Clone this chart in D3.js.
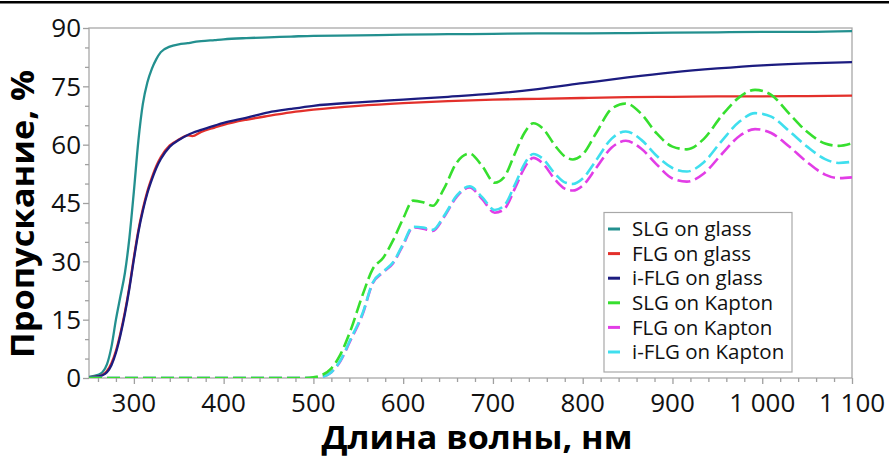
<!DOCTYPE html>
<html lang="ru">
<head>
<meta charset="UTF-8" />
<title>Пропускание</title>
<script src="https://d3js.org/d3.v7.min.js"></script>
<style>
  body { margin: 0; background: #fff; }
  svg { display: block; background: #fff; }
  .tick-label { font-family: "Open Sans", "Liberation Sans", sans-serif; font-size: 26px; fill: #111; }
  .legend-text { font-family: "Open Sans", "Liberation Sans", sans-serif; font-size: 20.5px; fill: #111; }
  .axis-title { font-family: "Open Sans", "Noto Sans", sans-serif; font-weight: bold; font-size: 32px; fill: #000; }
</style>
</head>
<body>
<svg id="chart" width="889" height="459"></svg>
<script>
// wavelength grid for the glass samples (nm)
const glassNm = [250,260,265,270,275,280,285,290,295,300,305,310,315,320,325,330,340,350,360,365,375,390,400,425,450,475,500,550,600,650,700,750,800,850,900,950,1000,1050,1100];
const slgGlass  = [0.3,0.8,1.5,3.5,8,15,21,27,36,48,61,70.5,76,79.5,82,83.8,85.2,85.8,86.1,86.3,86.6,86.9,87.1,87.4,87.6,87.8,88.0,88.1,88.3,88.4,88.5,88.6,88.6,88.7,88.8,88.9,89.0,89.0,89.2];
const flgGlass  = [0.2,0.4,0.8,1.8,3.8,7,11.5,17,23.5,31,38,43.5,48,51.5,54.5,56.8,59.8,61.3,62.4,62.2,63.3,64.4,65.1,66.4,67.4,68.3,69.0,70.0,70.7,71.2,71.6,71.8,72.0,72.2,72.3,72.4,72.4,72.5,72.6];
const iflgGlass = [0.2,0.4,0.7,1.5,3.3,6.5,11,16.5,23,30.5,37.5,43,47.5,51,54,56.3,59.5,61.2,62.5,63,63.8,64.9,65.6,66.9,68.3,69.2,70.0,70.9,71.6,72.3,73.1,74.3,75.8,77.3,78.6,79.6,80.4,80.9,81.2];

// wavelength grid for the Kapton samples (nm)
const kaptonNm = [250,490,500,510,520,530,541,555,566,578,589,600,611,622,633,645,660,674,688,702,712,725,735,745,755,770,780,789,800,815,832,848,865,882,900,916,935,955,975,992,1010,1030,1050,1070,1085,1100];
const slgKapton  = [0,0,0.2,0.8,2.5,6,12,21.5,28,31,35.5,41,45.6,45.2,44.3,48.5,55.5,57.7,54.5,50.2,51.5,58,63,65.5,64.3,59.5,57,56.2,57.5,63,69.2,70.6,68,63,59.5,58.8,61.5,67.5,72.3,74.1,72.8,68,63.3,60.3,59.7,60.4];
const flgKapton  = [0,0,0,0.3,1.5,4.3,9.5,16.5,24.3,27.2,29.6,34.2,38.7,38.4,37.8,41.2,46.7,49,46,42.5,43.3,49,54,56.6,55.3,50.8,48.7,48.2,49.5,54,59.2,61,59,55,51.3,50.5,52.6,57.6,62.3,64,63,59.5,55.5,52.3,51.4,51.6];
const iflgKapton = [0,0,0,0.3,1.5,4.5,9.8,16.8,24.5,27.4,29.8,34.5,38.9,38.7,38.1,41.5,47,49.3,46.5,43.2,44.2,50,55,57.6,56.5,52.3,50.3,49.9,51.3,56,61.5,63.4,61.3,57.2,54,53.1,55.5,61,66,68.1,67.2,63.5,59.5,56.3,55.3,55.6];

const seriesNames = ["SLG on glass","FLG on glass","i-FLG on glass","SLG on Kapton","FLG on Kapton","i-FLG on Kapton"];
const seriesColors = ["#23908f","#e3302b","#1c1c80","#36df2e","#e23de6","#3fdfee"];

const xMajorTicks = [300,400,500,600,700,800,900,1000,1100];
const yMajorTicks = [0,15,30,45,60,75,90];

const svg = d3.select("#chart");
const plot = { left: 89, right: 852, top: 28, bottom: 378 };

const x = d3.scaleLinear().domain([250, 1100]).range([plot.left, plot.right]);
const y = d3.scaleLinear().domain([0, 90]).range([plot.bottom, plot.top]);

const ru = d3.formatLocale({ decimal: ",", thousands: "\u00a0", grouping: [3], currency: ["", ""] });
const fmt = ru.format(",d");

// black rule at the very top of the page
svg.append("rect").attr("x", 0).attr("y", 1).attr("width", 889).attr("height", 2.5).attr("fill", "#000");

svg.append("defs").append("clipPath").attr("id", "clip")
  .append("rect")
  .attr("x", plot.left).attr("y", plot.top - 2)
  .attr("width", plot.right - plot.left).attr("height", plot.bottom - plot.top + 2);

// frame
svg.append("rect")
  .attr("x", plot.left).attr("y", plot.top)
  .attr("width", plot.right - plot.left).attr("height", plot.bottom - plot.top)
  .attr("fill", "none").attr("stroke", "#a8a8a8").attr("stroke-width", 1.3);

// x axis: labelled every 100, minor every 20
const xAxis = svg.append("g").attr("transform", `translate(0,${plot.bottom})`);
xAxis.call(d3.axisBottom(x).tickValues(d3.range(260, 1101, 20)).tickSize(4).tickFormat(""));
xAxis.call(g => g.selectAll(".tick line").filter(d => d % 100 === 0).attr("y2", 6));
xAxis.selectAll("line, path").attr("stroke", "#a0a0a0").attr("stroke-width", 1.3);
xAxis.select(".domain").remove();

svg.append("g").selectAll("text")
  .data(xMajorTicks)
  .join("text")
  .attr("class", "tick-label")
  .attr("x", d => x(d))
  .attr("y", 412)
  .attr("text-anchor", "middle")
  .text(d => fmt(d));

// y axis: labelled every 15, minor every 5
const yAxis = svg.append("g").attr("transform", `translate(${plot.left},0)`);
yAxis.call(d3.axisLeft(y).tickValues(d3.range(0, 91, 5)).tickSize(4).tickFormat(""));
yAxis.call(g => g.selectAll(".tick line").filter(d => d % 15 === 0).attr("x2", -6));
yAxis.selectAll("line, path").attr("stroke", "#a0a0a0").attr("stroke-width", 1.3);
yAxis.select(".domain").remove();

svg.append("g").selectAll("text")
  .data(yMajorTicks)
  .join("text")
  .attr("class", "tick-label")
  .attr("x", 81)
  .attr("y", d => y(d))
  .attr("dy", "0.36em")
  .attr("text-anchor", "end")
  .text(d => d);

// axis titles
svg.append("text")
  .attr("class", "axis-title")
  .attr("transform", "translate(34,214) rotate(-90)")
  .attr("text-anchor", "middle")
  .attr("textLength", 288)
  .attr("lengthAdjust", "spacingAndGlyphs")
  .text("Пропускание, %");

svg.append("text")
  .attr("class", "axis-title")
  .attr("x", 477)
  .attr("y", 449)
  .attr("text-anchor", "middle")
  .attr("textLength", 311)
  .attr("lengthAdjust", "spacingAndGlyphs")
  .text("Длина волны, нм");

// curves
const line = d3.line()
  .curve(d3.curveMonotoneX)
  .x(d => x(d[0]))
  .y(d => y(d[1]));

const series = [
  { nm: glassNm,  v: slgGlass,   dash: null,   c: 0 },
  { nm: glassNm,  v: flgGlass,   dash: null,   c: 1 },
  { nm: glassNm,  v: iflgGlass,  dash: null,   c: 2 },
  { nm: kaptonNm, v: flgKapton,  dash: "13,5", c: 4 },
  { nm: kaptonNm, v: iflgKapton, dash: "13,5", c: 5 },
  { nm: kaptonNm, v: slgKapton,  dash: "13,5", c: 3 }   // green drawn last, it sits on top along zero
];

const curves = svg.append("g").attr("clip-path", "url(#clip)");
series.forEach(s => {
  curves.append("path")
    .datum(s.nm.map((n, j) => [n, s.v[j]]))
    .attr("fill", "none")
    .attr("stroke", seriesColors[s.c])
    .attr("stroke-width", s.dash ? 2.6 : 2.3)
    .attr("stroke-dasharray", s.dash)
    .attr("stroke-linejoin", "round")
    .attr("d", line);
});

// legend
const legend = svg.append("g");
legend.append("rect")
  .attr("x", 604).attr("y", 212.5)
  .attr("width", 188).attr("height", 159.5)
  .attr("fill", "#fff").attr("stroke", "#a8a8a8").attr("stroke-width", 1.2);

seriesNames.forEach((name, i) => {
  const yy = 229 + i * 24.6;
  legend.append("line")
    .attr("x1", 608).attr("x2", 620)
    .attr("y1", yy).attr("y2", yy)
    .attr("stroke", seriesColors[i])
    .attr("stroke-width", 3);
  legend.append("text")
    .attr("class", "legend-text")
    .attr("x", 632)
    .attr("y", yy)
    .attr("dy", "0.35em")
    .text(name);
});
</script>
</body>
</html>
